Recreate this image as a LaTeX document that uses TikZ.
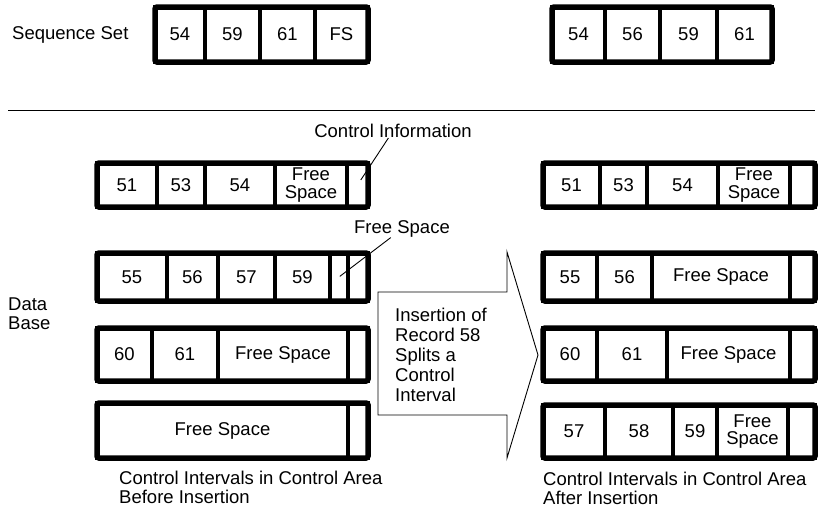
\documentclass[tikz,border=0pt]{standalone}
\usepackage{fontspec}
\setmainfont{Liberation Sans}
\usetikzlibrary{fit}
\tikzset{
  cell/.style  ={rectangle, draw=black, line width=4.5pt, fill=white, inner sep=0pt,
                 outer sep=0pt, align=center, font=\fontsize{18.5}{17.5}\selectfont},
  frame/.style ={rectangle, draw=black, line width=5.5pt, rounded corners=2pt,
                 inner sep=0pt},
  lbl/.style   ={inner sep=0pt, align=left, font=\fontsize{18.5}{19}\selectfont},
  lead/.style  ={line width=0.9pt, draw=black},
}

\begin{document}
\begin{tikzpicture}[x=1pt, y=-1pt]
  \useasboundingbox (0,0) rectangle (825,512);

  % sequence set, before and after
  \node[lbl, anchor=west] (seqlbl) at (12,35) {Sequence Set};
  \foreach \xl/\xr/\txt [count=\i] in {155/205/54, 205/260/59, 260/315/61, 315/368/FS}
    \node[cell, minimum width={(\xr-\xl)*1pt}, minimum height=55pt] (seqL\i) at ({(\xl+\xr)/2},34.5) {\txt};
  \node[frame, fit=(seqL1)(seqL4)] (seqLf) {};
  \foreach \xl/\xr/\txt [count=\i] in {552/605/54, 605/660/56, 660/717/59, 717/772/61}
    \node[cell, minimum width={(\xr-\xl)*1pt}, minimum height=55pt] (seqR\i) at ({(\xl+\xr)/2},34.5) {\txt};
  \node[frame, fit=(seqR1)(seqR4)] (seqRf) {};

  \draw[lead] (8,110) -- (815,110);

  % control intervals before insertion
  \foreach \xl/\xr/\txt [count=\i] in {97/157/51, 157/205/53, 205/275/54, 275/347/{Free\\Space}, 347/368/{}}
    \node[cell, minimum width={(\xr-\xl)*1pt}, minimum height=44pt] (befA\i) at ({(\xl+\xr)/2},185) {\txt};
  \node[frame, fit=(befA1)(befA5)] (befAf) {};
  \foreach \xl/\xr/\txt [count=\i] in {97/167/55, 167/218/56, 218/275/57, 275/330/59, 330/348/{}, 348/368/{}}
    \node[cell, minimum width={(\xr-\xl)*1pt}, minimum height=48pt] (befB\i) at ({(\xl+\xr)/2},277) {\txt};
  \node[frame, fit=(befB1)(befB6)] (befBf) {};
  \foreach \xl/\xr/\txt [count=\i] in {97/152/60, 152/218/61, 218/348/Free Space, 348/368/{}}
    \node[cell, minimum width={(\xr-\xl)*1pt}, minimum height=53pt] (befC\i) at ({(\xl+\xr)/2},354.5) {\txt};
  \node[frame, fit=(befC1)(befC4)] (befCf) {};
  \foreach \xl/\xr/\txt [count=\i] in {97/348/Free Space, 348/368/{}}
    \node[cell, minimum width={(\xr-\xl)*1pt}, minimum height=55pt] (befD\i) at ({(\xl+\xr)/2},430.5) {\txt};
  \node[frame, fit=(befD1)(befD2)] (befDf) {};

  % leaders
  \node[lbl, anchor=center] (cinfo) at (393,131) {Control Information};
  \node[lbl, anchor=center] (fslbl) at (402,229) {Free Space};
  \draw[lead, shorten >=6pt] (cinfo) -- (befA5.center);
  \draw[lead, shorten >=1pt] (fslbl) -- (befB5.center);

  \node[lbl, anchor=west] (dblbl) at (8,314) {Data\\Base};

  % insertion arrow
  \draw[lead] (378,292) -- (507,292) -- (507,252) -- (538,355) -- (507,458)
    -- (507,415) -- (378,415) -- cycle;
  \node[lbl, anchor=west, font=\fontsize{18.5}{20}\selectfont] (ins) at (395,355)
    {Insertion of\\Record 58\\Splits a\\Control\\Interval};

  % control intervals after insertion
  \foreach \xl/\xr/\txt [count=\i] in {543/600/51, 600/647/53, 647/718/54, 718/790/{Free\\Space}, 790/815/{}}
    \node[cell, minimum width={(\xr-\xl)*1pt}, minimum height=44pt] (aftA\i) at ({(\xl+\xr)/2},185) {\txt};
  \node[frame, fit=(aftA1)(aftA5)] (aftAf) {};
  \foreach \xl/\xr/\txt [count=\i] in {543/597/55, 597/652/56, 652/790/Free Space, 790/815/{}}
    \node[cell, minimum width={(\xr-\xl)*1pt}, minimum height=48pt] (aftB\i) at ({(\xl+\xr)/2},277) {\txt};
  \node[frame, fit=(aftB1)(aftB4)] (aftBf) {};
  \foreach \xl/\xr/\txt [count=\i] in {543/597/60, 597/667/61, 667/790/Free Space, 790/815/{}}
    \node[cell, minimum width={(\xr-\xl)*1pt}, minimum height=53pt] (aftC\i) at ({(\xl+\xr)/2},354.5) {\txt};
  \node[frame, fit=(aftC1)(aftC4)] (aftCf) {};
  \foreach \xl/\xr/\txt [count=\i] in {543/605/57, 605/673/58, 673/717/59, 717/788/{Free\\Space}, 788/815/{}}
    \node[cell, minimum width={(\xr-\xl)*1pt}, minimum height=53pt] (aftD\i) at ({(\xl+\xr)/2},431.5) {\txt};
  \node[frame, fit=(aftD1)(aftD5)] (aftDf) {};

  % captions
  \node[lbl, anchor=west] (capbef) at (119,487) {Control Intervals in Control Area\\Before Insertion};
  \node[lbl, anchor=west] (capaft) at (543,488) {Control Intervals in Control Area\\After Insertion};
\end{tikzpicture}
\end{document}
